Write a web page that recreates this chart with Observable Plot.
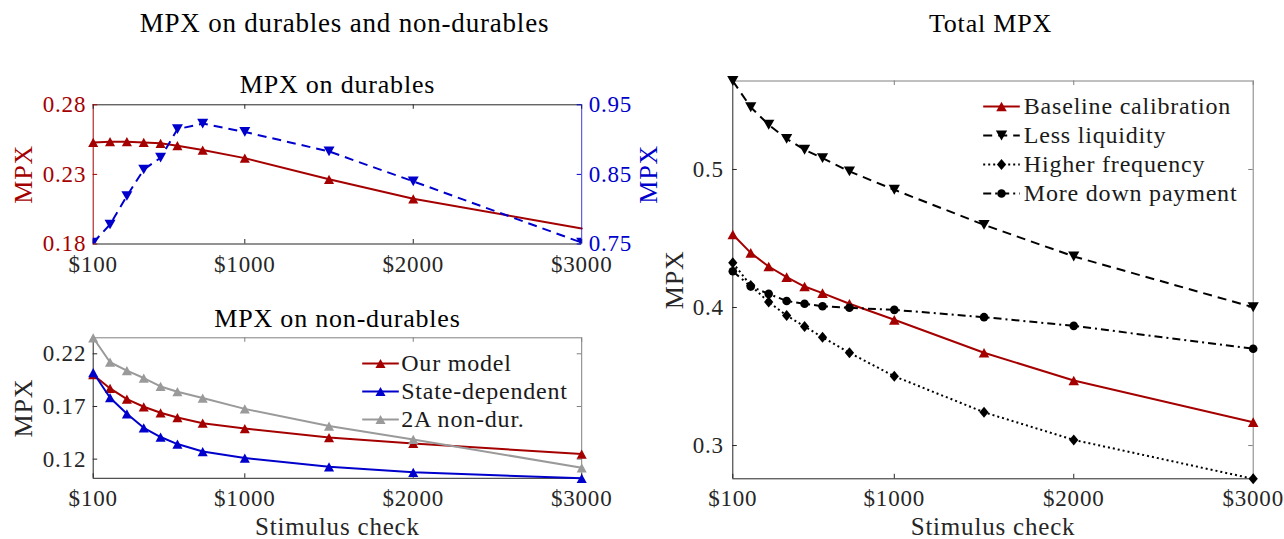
<!DOCTYPE html>
<html>
<head>
<meta charset="utf-8">
<script src="https://cdn.jsdelivr.net/npm/d3@7"></script>
<script src="https://cdn.jsdelivr.net/npm/@observablehq/plot@0.6"></script>
<style>
  body { margin: 0; background: #fff; }
  #chart { position: relative; width: 1284px; height: 539px; overflow: hidden; background: #fff; }
  #chart svg { position: absolute; left: 0; top: 0; background: transparent !important; max-width: none !important; letter-spacing: 0.8px; }
</style>
</head>
<body>
<div id="chart"></div>
<script>
// ---------------- data ----------------
const stimulus = [100, 200, 300, 400, 500, 600, 750, 1000, 1500, 2000, 3000];
const xTickValues = [100, 1000, 2000, 3000];

// Top-left: MPX on durables (left axis: our model, right axis: state-dependent)
const durablesOurModel = [0.2530, 0.2535, 0.2535, 0.2530, 0.2523, 0.2506, 0.2475, 0.2417, 0.2265, 0.2125, 0.1912];
const durablesStateDependent = [0.752, 0.778, 0.819, 0.857, 0.874, 0.915, 0.923, 0.911, 0.883, 0.840, 0.752];
const durablesLeftDomain = [0.18, 0.28];
const durablesRightDomain = [0.75, 0.95];
const durablesLeftTicks = [0.18, 0.23, 0.28];
const durablesRightTicks = [0.75, 0.85, 0.95];

// Bottom-left: MPX on non-durables
const nondurOurModel = [0.2002, 0.1871, 0.1769, 0.1697, 0.1640, 0.1595, 0.1541, 0.1490, 0.1405, 0.1349, 0.1248];
const nondurStateDependent = [0.2022, 0.1783, 0.1630, 0.1497, 0.1410, 0.1343, 0.1272, 0.1210, 0.1127, 0.1075, 0.1018];
const nondur2A = [0.2352, 0.2120, 0.2040, 0.1970, 0.1890, 0.1840, 0.1780, 0.1677, 0.1514, 0.1387, 0.1118];
const nondurTicks = [0.12, 0.17, 0.22];
const nondurLegend = ["Our model", "State-dependent", "2A non-dur."];

// Right: Total MPX
const totalBaseline = [0.4529, 0.4396, 0.4297, 0.4220, 0.4152, 0.4104, 0.4027, 0.3911, 0.3672, 0.3471, 0.3169];
const totalLessLiquidity = [0.5641, 0.5451, 0.5324, 0.5222, 0.5143, 0.5082, 0.4986, 0.4853, 0.4599, 0.4370, 0.4002];
const totalHigherFrequency = [0.4324, 0.4159, 0.4040, 0.3942, 0.3862, 0.3785, 0.3672, 0.3502, 0.3241, 0.3041, 0.2759];
const totalMoreDownPayment = [0.4263, 0.4152, 0.4099, 0.4047, 0.4027, 0.4009, 0.3998, 0.3983, 0.3930, 0.3867, 0.3701];
const totalTicks = [0.3, 0.4, 0.5];
const totalLegend = ["Baseline calibration", "Less liquidity", "Higher frequency", "More down payment"];

// Texts
const leftTitle = "MPX on durables and non-durables";
const rightTitle = "Total MPX";
const durablesTitle = "MPX on durables";
const nondurTitle = "MPX on non-durables";
const yLabel = "MPX";
const xLabel = "Stimulus check";

// ---------------- style ----------------
const W = 1284, H = 539;
const FONT = "Liberation Serif, DejaVu Serif, serif";
const RED = "#a50000", BLUE = "#0000cc", GREY = "#9a9a9a", INK = "#262626", BOX = "#808080";
const TICK = 4.5;
const xDomain = d3.extent(stimulus);
const dollar = d => "$" + d;

const symTriUp = {draw(ctx, size) { const r = Math.sqrt(size / Math.PI), a = r * 1.2, h = r * 1.1;
  ctx.moveTo(0, -h); ctx.lineTo(a, h); ctx.lineTo(-a, h); ctx.closePath(); }};
const symTriDown = {draw(ctx, size) { const r = Math.sqrt(size / Math.PI), a = r * 1.25, h = r * 1.1;
  ctx.moveTo(0, h); ctx.lineTo(a, -h); ctx.lineTo(-a, -h); ctx.closePath(); }};
const symDiamond = {draw(ctx, size) { const r = Math.sqrt(size / Math.PI), a = r * 1.05, h = r * 1.25;
  ctx.moveTo(0, -h); ctx.lineTo(a, 0); ctx.lineTo(0, h); ctx.lineTo(-a, 0); ctx.closePath(); }};

const rows = values => stimulus.map((x, i) => ({x, y: values[i]}));

// frames (pixel geometry of the plotting areas)
const fA = {L: 92.7, R: 581.2, T: 104.3, B: 243.5};
const fB = {L: 92.7, R: 581.2, T: 337.3, B: 477.8};
const fC = {L: 732.3, R: 1252.7, T: 80.5, B: 478.3};

function plotLayer(frame, yDomain, marks, withXAxis) {
  return Plot.plot({
    width: W, height: H,
    marginLeft: frame.L, marginRight: W - frame.R, marginTop: frame.T, marginBottom: H - frame.B,
    x: withXAxis ? {domain: xDomain} : {domain: xDomain, axis: null},
    y: {domain: yDomain},
    style: {fontFamily: FONT, fontSize: "23px", background: "transparent", overflow: "visible"},
    marks
  });
}

function xTicksIn(frame, bottomColor, topColor) {
  const fh = frame.B - frame.T;
  return [
    Plot.tickX(xTickValues, {x: d => d, insetTop: fh - TICK, stroke: bottomColor}),
    Plot.tickX(xTickValues, {x: d => d, insetBottom: fh - TICK, stroke: topColor})
  ];
}
function yTicksIn(frame, ticks, side, color) {
  const fw = frame.R - frame.L;
  const opt = {y: d => d, stroke: color};
  opt[side === "left" ? "insetRight" : "insetLeft"] = fw - TICK;
  return Plot.tickY(ticks, opt);
}
function series(values, color, symbol, r, dash, clip) {
  return [
    Plot.line(rows(values), {x: "x", y: "y", stroke: color, strokeWidth: 2, strokeDasharray: dash,
      strokeLinecap: "butt", strokeLinejoin: "round", clip: !!clip}),
    Plot.dot(rows(values), {x: "x", y: "y", symbol, r, fill: color, stroke: "none", clip: !!clip})
  ];
}
function label(text, opts) {
  return Plot.text([text], {text: d => d, lineAnchor: "bottom", textAnchor: "middle", fontFamily: FONT, ...opts});
}
const axisFont = {fontFamily: FONT, fontSize: 23};

const chart = document.getElementById("chart");

// ---------- Panel A (durables), left axis layer ----------
const durRedDots = rows(durablesOurModel).filter(d => d.x < xDomain[1]);
chart.append(plotLayer(fA, durablesLeftDomain, [
  Plot.ruleY([durablesLeftDomain[0]], {stroke: INK}),
  Plot.ruleY([durablesLeftDomain[1]], {stroke: INK}),
  Plot.ruleX([xDomain[0]], {stroke: RED}),
  ...xTicksIn(fA, INK, INK),
  yTicksIn(fA, durablesLeftTicks, "left", RED),
  Plot.axisY(durablesLeftTicks, {tickSize: 0, tickPadding: 7, tickFormat: d3.format(".2f"), color: RED, label: null, ...axisFont}),
  Plot.axisX(xTickValues, {tickSize: 0, tickPadding: 12, tickFormat: dollar, color: INK, label: null, ...axisFont}),
  Plot.line(rows(durablesOurModel), {x: "x", y: "y", stroke: RED, strokeWidth: 2, strokeLinejoin: "round"}),
  Plot.dot(durRedDots, {x: "x", y: "y", symbol: symTriUp, r: 4.2, fill: RED, stroke: "none"}),
  label(yLabel, {frameAnchor: "left", rotate: -90, dx: -60.7, fill: RED, fontSize: 26}),
  label(durablesTitle, {frameAnchor: "top", dy: -11.6, fill: "#000", fontSize: 26}),
  label(leftTitle, {frameAnchor: "top", dy: -72.6, dx: 7, fill: "#000", fontSize: 27})
], true));

// ---------- Panel A, right axis layer ----------
chart.append(plotLayer(fA, durablesRightDomain, [
  Plot.ruleX([xDomain[1]], {stroke: BLUE, strokeOpacity: 0.75}),
  yTicksIn(fA, durablesRightTicks, "right", BLUE),
  Plot.axisY(durablesRightTicks, {anchor: "right", tickSize: 0, tickPadding: 7, tickFormat: d3.format(".2f"), color: BLUE, label: null, ...axisFont}),
  ...series(durablesStateDependent, BLUE, symTriDown, 4.4, "9,6", true),
  label(yLabel, {frameAnchor: "right", rotate: -90, dx: 75, fill: BLUE, fontSize: 26})
], false));

// ---------- Panel B (non-durables) ----------
const ndAll = [...nondurOurModel, ...nondurStateDependent, ...nondur2A];
const ndDomain = d3.extent(ndAll);
chart.append(plotLayer(fB, ndDomain, [
  Plot.ruleY([ndDomain[1]], {stroke: BOX}),
  Plot.ruleX([xDomain[1]], {stroke: BOX}),
  Plot.ruleY([ndDomain[0]], {stroke: INK}),
  Plot.ruleX([xDomain[0]], {stroke: INK}),
  ...xTicksIn(fB, INK, BOX),
  yTicksIn(fB, nondurTicks, "left", INK),
  yTicksIn(fB, nondurTicks, "right", BOX),
  Plot.axisY(nondurTicks, {tickSize: 0, tickPadding: 7, tickFormat: d3.format(".2f"), color: INK, label: null, ...axisFont}),
  Plot.axisX(xTickValues, {tickSize: 0, tickPadding: 11, tickFormat: dollar, color: INK, label: null, ...axisFont}),
  ...series(nondurOurModel, RED, symTriUp, 4.2, null),
  ...series(nondurStateDependent, BLUE, symTriUp, 4.2, null),
  ...series(nondur2A, GREY, symTriUp, 4.2, null),
  label(yLabel, {frameAnchor: "left", rotate: -90, dx: -60.7, fill: INK, fontSize: 26}),
  label(nondurTitle, {frameAnchor: "top", dy: -11.3, fill: "#000", fontSize: 26}),
  label(xLabel, {frameAnchor: "bottom", dy: 57, fill: INK, fontSize: 25})
], true));

// ---------- Panel C (total) ----------
const totAll = [...totalBaseline, ...totalLessLiquidity, ...totalHigherFrequency, ...totalMoreDownPayment];
const totDomain = d3.extent(totAll);
chart.append(plotLayer(fC, totDomain, [
  Plot.ruleY([totDomain[1]], {stroke: BOX}),
  Plot.ruleX([xDomain[1]], {stroke: BOX}),
  Plot.ruleY([totDomain[0]], {stroke: INK}),
  Plot.ruleX([xDomain[0]], {stroke: INK}),
  ...xTicksIn(fC, INK, BOX),
  yTicksIn(fC, totalTicks, "left", INK),
  yTicksIn(fC, totalTicks, "right", BOX),
  Plot.axisY(totalTicks, {tickSize: 0, tickPadding: 9, tickFormat: d3.format(".1f"), color: INK, label: null, ...axisFont}),
  Plot.axisX(xTickValues, {tickSize: 0, tickPadding: 11, tickFormat: dollar, color: INK, label: null, ...axisFont}),
  ...series(totalBaseline, RED, symTriUp, 4.4, null),
  ...series(totalLessLiquidity, "#000", symTriDown, 4.5, "9,6"),
  ...series(totalHigherFrequency, "#000", symDiamond, 4.4, "2,3"),
  ...series(totalMoreDownPayment, "#000", "circle", 4.3, "8,4,2,4"),
  label(yLabel, {frameAnchor: "left", rotate: -90, dx: -50.3, fill: INK, fontSize: 26}),
  label(rightTitle, {frameAnchor: "top", dy: -48.8, dx: -2.5, fill: "#000", fontSize: 26}),
  label(xLabel, {frameAnchor: "bottom", dy: 56.5, fill: INK, fontSize: 25})
], true));

// ---------- Legends ----------
function legendLayer(x0, x1, yRange, entries, textDx) {
  const marks = [];
  for (const e of entries) {
    marks.push(Plot.link([e], {x1: () => 0, x2: () => 1, y1: d => d.name, y2: d => d.name,
      stroke: e.color, strokeWidth: 2, strokeDasharray: e.dash, strokeLinecap: "butt"}));
    marks.push(Plot.dot([e], {x: () => 0.5, y: d => d.name, symbol: e.symbol, r: e.r, fill: e.color, stroke: "none"}));
    marks.push(Plot.text([e], {x: () => 1, y: d => d.name, text: d => d.name, textAnchor: "start",
      dx: textDx, fill: "#1a1a1a", fontSize: 24, fontFamily: FONT}));
  }
  return Plot.plot({
    width: W, height: H, margin: 0,
    x: {domain: [0, 1], range: [x0, x1], axis: null},
    y: {type: "point", domain: entries.map(e => e.name), range: yRange, padding: 0, axis: null},
    style: {fontFamily: FONT, background: "transparent", overflow: "visible"},
    marks
  });
}

chart.append(legendLayer(361.7, 398.3, [361.7, 419.5], [
  {name: nondurLegend[0], color: RED, symbol: symTriUp, r: 4.2, dash: null},
  {name: nondurLegend[1], color: BLUE, symbol: symTriUp, r: 4.2, dash: null},
  {name: nondurLegend[2], color: GREY, symbol: symTriUp, r: 4.2, dash: null}
], 2.4));

chart.append(legendLayer(982.7, 1019.3, [106, 193.3], [
  {name: totalLegend[0], color: RED, symbol: symTriUp, r: 4.4, dash: null},
  {name: totalLegend[1], color: "#000", symbol: symTriDown, r: 4.5, dash: "9,6"},
  {name: totalLegend[2], color: "#000", symbol: symDiamond, r: 4.4, dash: "2,3"},
  {name: totalLegend[3], color: "#000", symbol: "circle", r: 4.3, dash: "8,4,2,4"}
], 4));
</script>
</body>
</html>
